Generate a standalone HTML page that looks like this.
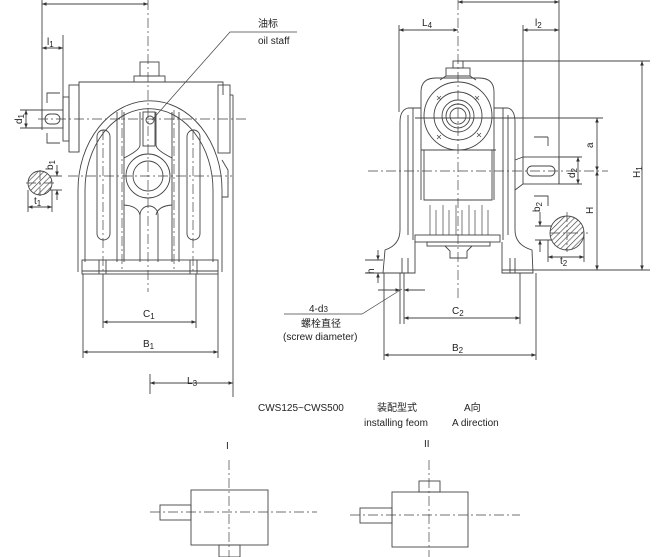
<!DOCTYPE html>
<html><head><meta charset="utf-8"><style>
html,body{margin:0;padding:0;background:#fff;}
svg{display:block;}
text{font-family:"Liberation Sans","Noto Sans CJK SC",sans-serif;fill:#222;font-size:10px;}
</style></head><body>
<svg width="656" height="557" viewBox="0 0 656 557" xmlns="http://www.w3.org/2000/svg">
<defs>
<marker id="a" viewBox="0 0 10 10" refX="10" refY="5" markerWidth="7" markerHeight="5" orient="auto-start-reverse"><path d="M0,1 L10,5 L0,9 z" fill="#333"/></marker>
<pattern id="h" width="4" height="4" patternUnits="userSpaceOnUse" patternTransform="rotate(45)"><line x1="0" y1="0" x2="0" y2="4" stroke="#444" stroke-width="1.3"/></pattern>
</defs>
<g fill="none" stroke="#444" stroke-width="0.9">
<!-- ===== LEFT VIEW ===== -->
<g stroke-dasharray="10,3,2,3" stroke-width="0.7">
<line x1="148" y1="0" x2="148" y2="292"/>
<line x1="38" y1="119" x2="248" y2="119"/>
<line x1="68" y1="176" x2="232" y2="176"/>
<line x1="26" y1="183" x2="56" y2="183"/>
<line x1="40" y1="170" x2="40" y2="196"/>
<line x1="103" y1="130" x2="103" y2="272"/>
<line x1="193" y1="130" x2="193" y2="272"/>
<line x1="122" y1="110" x2="122" y2="272"/>
<line x1="174" y1="110" x2="174" y2="272"/>
</g>
<line x1="42" y1="0" x2="42" y2="130"/>
<line x1="42" y1="4" x2="148" y2="4" marker-start="url(#a)" marker-end="url(#a)"/>
<line x1="63" y1="35" x2="63" y2="110"/>
<line x1="42" y1="48" x2="63" y2="48" marker-start="url(#a)" marker-end="url(#a)"/>
<rect x="42" y="110" width="21" height="18"/>
<rect x="45" y="114" width="15" height="10" rx="5"/>
<path d="M47 103 V93 H60 M47 133 V143 H60"/>
<line x1="20" y1="110" x2="42" y2="110"/><line x1="20" y1="128" x2="42" y2="128"/>
<line x1="26" y1="110" x2="26" y2="128" marker-start="url(#a)" marker-end="url(#a)"/>
<rect x="63" y="97" width="6" height="44"/>
<rect x="69" y="85" width="10" height="67"/>
<path d="M79 152 V82 H223 V95"/>
<rect x="134" y="76" width="31" height="6"/>
<rect x="140" y="62" width="19" height="14"/>
<rect x="218" y="85" width="12" height="68"/>
<line x1="230" y1="95" x2="233" y2="95"/><line x1="233" y1="95" x2="233" y2="145"/>
<path d="M78 272 V190 A71 88 0 0 1 222 190 V272"/>
<path d="M85 262 V190 A63 80 0 0 1 213 190 V262"/>
<path d="M222 160 L228 170 V197 H222"/>
<rect x="97" y="130" width="13" height="110" rx="6.5"/>
<rect x="187" y="130" width="13" height="110" rx="6.5"/>
<path d="M117 112 V262 M124 112 V262 M172 112 V262 M179 112 V262"/>
<path d="M124 158 Q140 150 140 145 V112 M172 158 Q156 150 156 145 V112"/>
<path d="M124 205 Q138 206 140 215 M172 205 Q158 206 156 215"/>
<circle cx="148" cy="176" r="22"/>
<circle cx="148" cy="176" r="15"/>
<rect x="143" y="112" width="12" height="34"/>
<circle cx="150" cy="120" r="4"/>
<path d="M140 262 V215 A9 9 0 0 1 158 215 V262"/>
<rect x="82" y="260" width="136" height="14"/>
<line x1="82" y1="271" x2="218" y2="271"/>
<path d="M99 260 V274 M106 260 V274 M190 260 V274 M197 260 V274"/>
<circle cx="40" cy="183" r="12" fill="url(#h)"/>
<line x1="50" y1="176" x2="62" y2="176"/><line x1="50" y1="190" x2="62" y2="190"/>
<line x1="57" y1="165" x2="57" y2="176" marker-end="url(#a)"/>
<line x1="57" y1="200" x2="57" y2="190" marker-end="url(#a)"/>
<line x1="28" y1="190" x2="28" y2="212"/><line x1="52" y1="190" x2="52" y2="212"/>
<line x1="28" y1="207" x2="52" y2="207" marker-start="url(#a)" marker-end="url(#a)"/>
<path d="M103 274 V328 M196 274 V328"/>
<line x1="103" y1="322" x2="196" y2="322" marker-start="url(#a)" marker-end="url(#a)"/>
<path d="M83 274 V358 M218 274 V358"/>
<line x1="83" y1="352" x2="218" y2="352" marker-start="url(#a)" marker-end="url(#a)"/>
<line x1="233" y1="145" x2="233" y2="397"/>
<line x1="150" y1="374" x2="150" y2="394"/>
<line x1="150" y1="383" x2="233" y2="383" marker-start="url(#a)" marker-end="url(#a)"/>
<path d="M297 32 H230 L152 120" stroke-width="0.7"/>
<!-- ===== RIGHT VIEW ===== -->
<g stroke-dasharray="10,3,2,3" stroke-width="0.7">
<line x1="458" y1="0" x2="458" y2="300"/>
<line x1="368" y1="171" x2="608" y2="171"/>
<line x1="550" y1="233" x2="588" y2="233"/>
<line x1="567" y1="212" x2="567" y2="252"/>
</g>
<line x1="559" y1="0" x2="559" y2="184"/>
<line x1="458" y1="2" x2="559" y2="2" marker-start="url(#a)" marker-end="url(#a)"/>
<line x1="399" y1="25" x2="399" y2="112"/>
<line x1="399" y1="30" x2="458" y2="30" marker-start="url(#a)" marker-end="url(#a)"/>
<line x1="523" y1="25" x2="523" y2="157"/>
<line x1="523" y1="30" x2="559" y2="30" marker-start="url(#a)" marker-end="url(#a)"/>
<line x1="457" y1="61" x2="650" y2="61"/>
<line x1="502" y1="270" x2="650" y2="270"/>
<line x1="642" y1="61" x2="642" y2="270" marker-start="url(#a)" marker-end="url(#a)"/>
<line x1="415" y1="118" x2="603" y2="118"/>
<line x1="597" y1="118" x2="597" y2="171" marker-start="url(#a)" marker-end="url(#a)"/>
<line x1="597" y1="171" x2="597" y2="270" marker-start="url(#a)" marker-end="url(#a)"/>
<line x1="559" y1="157" x2="582" y2="157"/><line x1="559" y1="184" x2="582" y2="184"/>
<line x1="578" y1="157" x2="578" y2="184" marker-start="url(#a)" marker-end="url(#a)"/>
<rect x="523" y="157" width="36" height="27"/>
<rect x="527" y="166" width="28" height="10" rx="5"/>
<path d="M515 160 L523 157 M515 190 L523 184"/>
<path d="M548 137 V146 M548 137 H534 M548 206 V196 H534"/>
<rect x="453" y="61" width="10" height="7"/>
<rect x="446" y="68" width="24" height="8"/>
<path d="M440 80 L446 76 H470 L476 80"/>
<path d="M421 200 V92 Q421 78 436 78 H479 Q494 78 494 92 V200"/>
<circle cx="458" cy="116" r="34"/>
<circle cx="458" cy="116" r="24"/>
<circle cx="458" cy="116" r="16"/>
<circle cx="458" cy="116" r="12"/>
<circle cx="458" cy="116" r="8"/>
<path d="M437 96 l4 4 m0 -4 l-4 4 M475 96 l4 4 m0 -4 l-4 4 M437 135 l4 4 m0 -4 l-4 4 M477 133 l4 4 m0 -4 l-4 4" stroke-width="0.7"/>
<path d="M421 150 H496 M424 150 V200 H492 V150"/>
<path d="M430 205 V235 M436 210 V235 M443 205 V235 M449 210 V235 M456 205 V235 M462 210 V235 M469 205 V235 M475 210 V235 M482 205 V235 M488 210 V235" stroke-width="0.7"/>
<rect x="415" y="235" width="85" height="7"/>
<rect x="427" y="242" width="63" height="4"/>
<path d="M445 246 L450 251 V258 H467 V251 L472 246"/>
<path d="M421 108 H408 Q400 110 400 122 V230 Q400 245 385 250 L383 273 H415 V242"/>
<path d="M408 115 V235 M413 108 V240"/>
<path d="M494 108 H508 Q515 110 515 122 V230 Q515 245 532 250 L533 273 H502 V242"/>
<path d="M508 115 V235 M503 108 V240"/>
<path d="M402 258 V273 M408 258 V273 M510 258 V273 M515 258 V273"/>
<circle cx="567" cy="233" r="17" fill="url(#h)"/>
<line x1="535" y1="226" x2="552" y2="226"/><line x1="535" y1="240" x2="552" y2="240"/>
<line x1="540" y1="212" x2="540" y2="226" marker-end="url(#a)"/>
<line x1="540" y1="252" x2="540" y2="240" marker-end="url(#a)"/>
<line x1="548" y1="240" x2="548" y2="262"/><line x1="584" y1="233" x2="584" y2="262"/>
<line x1="548" y1="257" x2="584" y2="257" marker-start="url(#a)" marker-end="url(#a)"/>
<line x1="365" y1="260" x2="383" y2="260"/><line x1="365" y1="273" x2="383" y2="273"/>
<line x1="378" y1="250" x2="378" y2="260" marker-end="url(#a)"/>
<line x1="378" y1="283" x2="378" y2="273" marker-end="url(#a)"/>
<path d="M400 273 V324 M404 273 V324"/>
<line x1="378" y1="290" x2="400" y2="290" marker-end="url(#a)"/>
<line x1="425" y1="290" x2="404" y2="290" marker-end="url(#a)"/>
<path d="M284 314 H362 L402 289" stroke-width="0.7"/>
<path d="M520 273 V324"/>
<line x1="404" y1="318" x2="520" y2="318" marker-start="url(#a)" marker-end="url(#a)"/>
<path d="M384 273 V360 M536 273 V360"/>
<line x1="384" y1="355" x2="536" y2="355" marker-start="url(#a)" marker-end="url(#a)"/>
<!-- ===== BOTTOM VIEWS ===== -->
<g stroke-dasharray="10,3,2,3" stroke-width="0.7">
<line x1="229" y1="460" x2="229" y2="557"/>
<line x1="150" y1="512" x2="317" y2="512"/>
<line x1="429" y1="460" x2="429" y2="557"/>
<line x1="350" y1="515" x2="520" y2="515"/>
</g>
<rect x="191" y="490" width="77" height="55"/>
<rect x="160" y="505" width="31" height="15"/>
<rect x="219" y="545" width="21" height="12"/>
<rect x="392" y="492" width="76" height="55"/>
<rect x="419" y="481" width="21" height="11"/>
<rect x="360" y="508" width="32" height="15"/>
</g>
<!-- TEXT -->
<text x="47" y="45" font-size="11">l<tspan font-size="8" dy="2">1</tspan></text>
<text x="0" y="0" font-size="11" transform="translate(22,124) rotate(-90)">d<tspan font-size="8" dy="2">1</tspan></text>
<text x="0" y="0" font-size="11" transform="translate(53,170) rotate(-90)">b<tspan font-size="8" dy="2">1</tspan></text>
<text x="34" y="204" font-size="11">t<tspan font-size="8" dy="2">1</tspan></text>
<text x="258" y="27" font-size="11">油标</text>
<text x="258" y="44" font-size="11">oil staff</text>
<text x="143" y="317" font-size="11">C<tspan font-size="8" dy="2">1</tspan></text>
<text x="143" y="347" font-size="11">B<tspan font-size="8" dy="2">1</tspan></text>
<text x="187" y="384" font-size="11">L<tspan font-size="8" dy="2">3</tspan></text>
<text x="422" y="26" font-size="11">L<tspan font-size="8" dy="2">4</tspan></text>
<text x="535" y="26" font-size="11">l<tspan font-size="8" dy="2">2</tspan></text>
<text x="0" y="0" font-size="11" transform="translate(640,178) rotate(-90)">H<tspan font-size="8" dy="2">1</tspan></text>
<text x="0" y="0" font-size="11" transform="translate(593,148) rotate(-90)">a</text>
<text x="0" y="0" font-size="11" transform="translate(593,214) rotate(-90)">H</text>
<text x="0" y="0" font-size="11" transform="translate(575,178) rotate(-90)">d<tspan font-size="8" dy="2">2</tspan></text>
<text x="0" y="0" font-size="11" transform="translate(540,212) rotate(-90)">b<tspan font-size="8" dy="2">2</tspan></text>
<text x="560" y="264" font-size="11">t<tspan font-size="8" dy="2">2</tspan></text>
<text x="0" y="0" font-size="11" transform="translate(374,274) rotate(-90)">h</text>
<text x="452" y="314" font-size="11">C<tspan font-size="8" dy="2">2</tspan></text>
<text x="452" y="351" font-size="11">B<tspan font-size="8" dy="2">2</tspan></text>
<text x="309" y="312" font-size="11">4-d<tspan font-size="8">3</tspan></text>
<text x="301" y="327" font-size="10.5">螺栓直径</text>
<text x="283" y="340" font-size="10.5">(screw diameter)</text>
<text x="258" y="411" font-size="10.5">CWS125~CWS500</text>
<text x="377" y="411" font-size="10.5">装配型式</text>
<text x="364" y="426" font-size="10.5">installing feom</text>
<text x="464" y="411" font-size="10.5">A向</text>
<text x="452" y="426" font-size="10.5">A direction</text>
<text x="226" y="449" font-size="11" font-family="Liberation Serif">I</text>
<text x="424" y="447" font-size="11" font-family="Liberation Serif">II</text>
</svg>
</body></html>
